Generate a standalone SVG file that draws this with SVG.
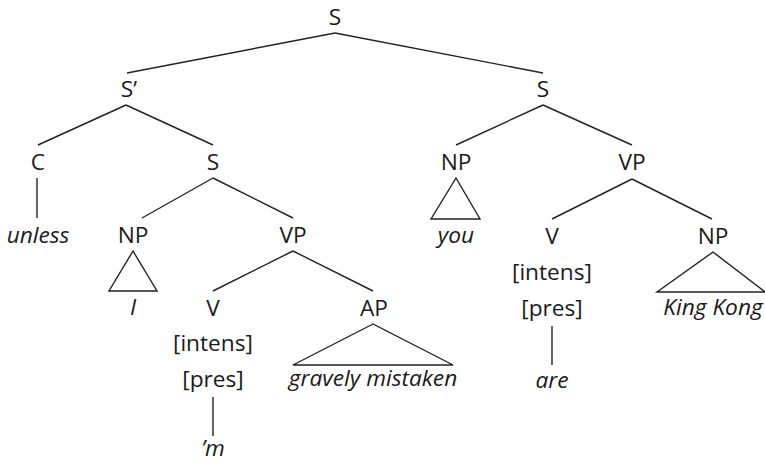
<svg xmlns="http://www.w3.org/2000/svg" width="765" height="464" viewBox="0 0 765 464">
<style>
text{font-family:"Open Sans","Liberation Sans",sans-serif;font-size:22.7px;fill:#1a1a1a;text-anchor:middle}
.i{font-style:italic}
line,polygon{stroke:#222;stroke-width:1.4;fill:none}
</style>
<rect width="765" height="464" fill="#fff"/>
<g id="connectors">
<line x1="335" y1="33" x2="127" y2="73"/>
<line x1="335" y1="33" x2="543" y2="73"/>
<line x1="126" y1="105" x2="38" y2="145"/>
<line x1="126" y1="105" x2="213" y2="145"/>
<line x1="37" y1="178" x2="37" y2="218"/>
<line x1="213" y1="178" x2="142" y2="218"/>
<line x1="213" y1="178" x2="293" y2="218"/>
<line x1="293" y1="251" x2="213" y2="291"/>
<line x1="293" y1="251" x2="373" y2="291"/>
<line x1="213" y1="397" x2="213" y2="436"/>
<line x1="543" y1="105" x2="456" y2="145"/>
<line x1="543" y1="105" x2="632" y2="145"/>
<line x1="632" y1="179" x2="552" y2="219"/>
<line x1="632" y1="179" x2="712" y2="219"/>
<line x1="552" y1="326" x2="552" y2="365"/>
<polygon points="133,251 109,291 157,291"/>
<polygon points="373,324 293,365 453,365"/>
<polygon points="456,178 431,219 480,219"/>
<polygon points="713,252 657,292 765,292"/>
</g>
<g id="s-root"><text x="335" y="25">S</text></g>
<g id="s-bar"><text x="129" y="97">S’</text></g>
<g id="c"><text x="38" y="170">C</text></g>
<g id="unless"><text class="i" x="38" y="243">unless</text></g>
<g id="s-sub"><text x="213" y="170">S</text></g>
<g id="np1"><text x="133" y="243">NP</text></g>
<g id="i-word"><text class="i" x="133" y="315">I</text></g>
<g id="vp1"><text x="293" y="243">VP</text></g>
<g id="v1"><text x="213" y="316">V</text><text x="213" y="351">[intens]</text><text x="213" y="387">[pres]</text></g>
<g id="m-word"><text class="i" x="213" y="456">’m</text></g>
<g id="ap"><text x="374" y="316">AP</text></g>
<g id="gravely"><text class="i" x="373" y="386">gravely mistaken</text></g>
<g id="s-right"><text x="543" y="97">S</text></g>
<g id="np2"><text x="456" y="170">NP</text></g>
<g id="you"><text class="i" x="456" y="243">you</text></g>
<g id="vp2"><text x="632" y="170">VP</text></g>
<g id="v2"><text x="552" y="244">V</text><text x="552" y="280">[intens]</text><text x="552" y="316">[pres]</text></g>
<g id="are"><text class="i" x="552" y="388">are</text></g>
<g id="np3"><text x="713" y="244">NP</text></g>
<g id="kingkong"><text class="i" x="713" y="315">King Kong</text></g>
</svg>
